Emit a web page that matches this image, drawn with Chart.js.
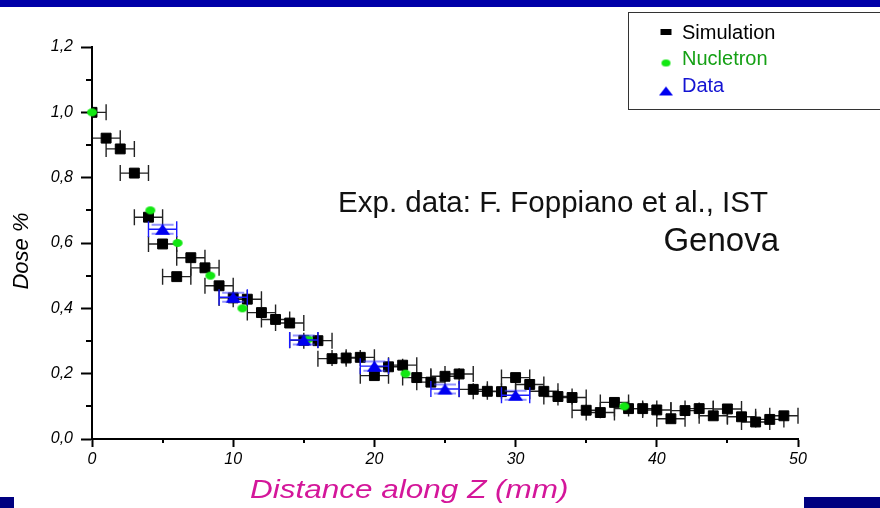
<!DOCTYPE html>
<html>
<head>
<meta charset="utf-8">
<title>Dose along Z</title>
<script src="https://cdn.jsdelivr.net/npm/chart.js@4.4.1/dist/chart.umd.min.js"></script>
<style>
  html, body { margin: 0; padding: 0; background: #fff; }
  #wrap { position: relative; width: 880px; height: 508px; overflow: hidden; }
  #topBar { position: absolute; left: 0; top: 0; width: 880px; height: 7px; background: #0000a8; }
  .foot { position: absolute; top: 497px; height: 11px; background: #000080; }
</style>
</head>
<body>
<div id="wrap">
  <canvas id="doseChart" width="880" height="508"></canvas>
  <div id="topBar"></div>
  <div class="foot" style="left:0;width:14px"></div>
  <div class="foot" style="left:804px;width:76px"></div>
</div>
<script>
// Simulation (mm bin centre, relative dose), each bin +-1 mm
const simZ = [0, 1, 2, 3, 4, 5, 6, 7, 8, 9, 10, 11, 12, 13, 14, 15, 16, 17, 18, 19,
              20, 21, 22, 23, 24, 25, 26, 27, 28, 29, 30, 31, 32, 33, 34, 35, 36, 37, 38, 39,
              40, 41, 42, 43, 44, 45, 46, 47, 48, 49];
const simDose = [1.0, 0.921, 0.888, 0.814, 0.679, 0.597, 0.497, 0.555, 0.524, 0.469,
                 0.432, 0.428, 0.387, 0.366, 0.355, 0.302, 0.301, 0.246, 0.248, 0.25,
                 0.194, 0.221, 0.226, 0.188, 0.174, 0.192, 0.199, 0.152, 0.146, 0.145,
                 0.188, 0.167, 0.146, 0.13, 0.127, 0.088, 0.081, 0.112, 0.093, 0.093,
                 0.089, 0.062, 0.087, 0.093, 0.071, 0.092, 0.068, 0.052, 0.06, 0.071];
const simZErr = 1;

// Nucletron reference curve
const nucZ = [0, 4.13, 6.06, 8.38, 10.65, 15.3, 22.2, 37.7];
const nucDose = [1.0, 0.70, 0.60, 0.50, 0.40, 0.305, 0.20, 0.10];

// measured data (Foppiano et al.)
const dataZ = [5, 10, 15, 20, 25, 30];
const dataDose = [0.642, 0.434, 0.303, 0.223, 0.153, 0.134];
const dataZErr = 1;
const dataDoseErr = [0.014, 0.014, 0.014, 0.014, 0.014, 0.014];

// axes
const xTicks = [0, 10, 20, 30, 40, 50];
const xMinorTicks = [5, 15, 25, 35, 45];
const yTicks = [0, 0.2, 0.4, 0.6, 0.8, 1.0, 1.2];
const yTickLabels = ['0,0', '0,2', '0,4', '0,6', '0,8', '1,0', '1,2'];
const yMinorTicks = [0.1, 0.3, 0.5, 0.7, 0.9, 1.1];

const FONT = "'Liberation Sans', Arial, sans-serif";
Chart.defaults.font.family = FONT;

function markerCanvas(w, h, color, shape) {
  const c = document.createElement('canvas');
  c.width = w + 2; c.height = h + 2;
  const g = c.getContext('2d');
  g.fillStyle = color;
  g.beginPath();
  if (shape === 'ellipse') {
    g.ellipse(c.width / 2, c.height / 2, w / 2, h / 2, 0, 0, Math.PI * 2);
  } else if (shape === 'tri') {
    g.moveTo(1 + w / 2, 1); g.lineTo(1 + w, 1 + h); g.lineTo(1, 1 + h); g.closePath();
  } else {
    g.rect(1, 1, w, h);
  }
  g.fill();
  return c;
}
const greenDot = markerCanvas(10, 8, '#12e812', 'ellipse');
const blueTri = markerCanvas(15, 11, '#0000f0', 'tri');
const legendRect = markerCanvas(11, 6, '#000', 'rect');
const legendDot = markerCanvas(9, 7, '#12e812', 'ellipse');
const legendTri = markerCanvas(14, 9, '#0000f0', 'tri');

// horizontal (and vertical) error bars, drawn under each dataset's markers
const errorBars = {
  id: 'errorBars',
  beforeDatasetDraw(chart, args) {
    const ds = chart.data.datasets[args.index];
    if (ds.errX === undefined) return;
    const { ctx, chartArea: a, scales: { x, y } } = chart;
    ctx.save();
    ctx.beginPath();
    ctx.rect(a.left + 1, a.top - 10, a.right - a.left + 2, a.bottom - a.top + 10);
    ctx.clip();
    ds.data.forEach((p, i) => {
      const px = x.getPixelForValue(p.x), py = y.getPixelForValue(p.y);
      const xl = x.getPixelForValue(p.x - ds.errX), xr = x.getPixelForValue(p.x + ds.errX);
      ctx.strokeStyle = ds.errColor;
      ctx.lineWidth = 1.4;
      ctx.beginPath();
      ctx.moveTo(xl, py); ctx.lineTo(xr, py);
      ctx.moveTo(xl, py - 8); ctx.lineTo(xl, py + 8);
      ctx.moveTo(xr, py - 8); ctx.lineTo(xr, py + 8);
      ctx.stroke();
      if (ds.errY) {
        const yt = y.getPixelForValue(p.y + ds.errY[i]), yb = y.getPixelForValue(p.y - ds.errY[i]);
        ctx.strokeStyle = 'rgba(60,60,255,0.55)';
        ctx.lineWidth = 2;
        ctx.beginPath();
        ctx.moveTo(px, yt); ctx.lineTo(px, yb);
        ctx.moveTo(px - 11, yt); ctx.lineTo(px + 11, yt);
        ctx.moveTo(px - 11, yb); ctx.lineTo(px + 11, yb);
        ctx.stroke();
      }
    });
    ctx.restore();
  }
};

// minor ticks, titles, annotation and the boxed legend
const decorations = {
  id: 'decorations',
  afterDraw(chart) {
    const { ctx, chartArea: a, scales: { x, y } } = chart;
    ctx.save();
    ctx.strokeStyle = '#000';
    ctx.lineWidth = 2;
    ctx.beginPath();
    yMinorTicks.forEach(v => {
      const py = Math.round(y.getPixelForValue(v));
      ctx.moveTo(a.left - 6, py); ctx.lineTo(a.left, py);
    });
    xMinorTicks.forEach(v => {
      const px = Math.round(x.getPixelForValue(v));
      ctx.moveTo(px, a.bottom); ctx.lineTo(px, a.bottom + 4);
    });
    ctx.stroke();

    // axis titles
    ctx.fillStyle = '#d4169a';
    ctx.font = 'italic 25px ' + FONT;
    ctx.textAlign = 'left';
    ctx.textBaseline = 'alphabetic';
    ctx.save();
    ctx.translate(250, 498);
    ctx.scale(1.26, 1);
    ctx.fillText('Distance along Z (mm)', 0, 0);
    ctx.restore();

    ctx.fillStyle = '#000';
    ctx.font = 'italic 22px ' + FONT;
    ctx.save();
    ctx.translate(28, 251);
    ctx.rotate(-Math.PI / 2);
    ctx.textAlign = 'center';
    ctx.fillText('Dose %', 0, 0);
    ctx.restore();

    // annotation
    ctx.fillStyle = '#111';
    ctx.font = '30px ' + FONT;
    ctx.textAlign = 'right';
    ctx.fillText('Exp. data: F. Foppiano et al., IST', 768, 212, 430);
    ctx.font = '33px ' + FONT;
    ctx.fillText('Genova', 779, 251);

    // legend
    ctx.fillStyle = '#fff';
    ctx.fillRect(628, 12, 260, 98);
    ctx.strokeStyle = '#333';
    ctx.lineWidth = 1;
    ctx.strokeRect(628.5, 12.5, 260, 97);
    ctx.drawImage(legendRect, 666 - legendRect.width / 2, 32 - legendRect.height / 2);
    ctx.drawImage(legendDot, 666 - legendDot.width / 2, 63 - legendDot.height / 2);
    ctx.drawImage(legendTri, 666 - legendTri.width / 2, 91 - legendTri.height / 2);
    ctx.font = '20px ' + FONT;
    ctx.textAlign = 'left';
    ctx.fillStyle = '#000';
    ctx.fillText('Simulation', 682, 39);
    ctx.fillStyle = '#15a015';
    ctx.fillText('Nucletron', 682, 65);
    ctx.fillStyle = '#1414d2';
    ctx.fillText('Data', 682, 92);
    ctx.restore();
  }
};

new Chart(document.getElementById('doseChart'), {
  type: 'scatter',
  data: {
    datasets: [
      {
        label: 'Simulation',
        data: simZ.map((z, i) => ({ x: z, y: simDose[i] })),
        pointStyle: 'rect',
        pointRadius: 7,
        pointBackgroundColor: '#000',
        pointBorderColor: '#000',
        pointBorderWidth: 1,
        errX: simZErr,
        errColor: '#222',
        order: 3
      },
      {
        label: 'Nucletron',
        data: nucZ.map((z, i) => ({ x: z, y: nucDose[i] })),
        pointStyle: greenDot,
        clip: false,
        order: 2
      },
      {
        label: 'Data',
        data: dataZ.map((z, i) => ({ x: z, y: dataDose[i] })),
        pointStyle: blueTri,
        errX: dataZErr,
        errY: dataDoseErr,
        errColor: '#1a1aff',
        order: 1
      }
    ]
  },
  options: {
    responsive: false,
    animation: false,
    layout: { padding: { left: 0, right: 82, top: 47, bottom: 0 } },
    plugins: { legend: { display: false }, tooltip: { enabled: false } },
    scales: {
      x: {
        type: 'linear',
        min: 0,
        max: 50,
        afterBuildTicks: s => { s.ticks = xTicks.map(v => ({ value: v })); },
        afterFit: s => { s.height = 69; },
        border: { color: '#000', width: 2 },
        grid: { drawOnChartArea: false, tickLength: 8, tickWidth: 2, tickColor: '#000' },
        ticks: { color: '#000', font: { size: 16, style: 'italic' }, padding: 3, maxRotation: 0 }
      },
      y: {
        type: 'linear',
        min: 0,
        max: 1.2,
        afterBuildTicks: s => { s.ticks = yTicks.map(v => ({ value: v })); },
        afterFit: s => { s.width = 92; },
        border: { color: '#000', width: 2 },
        grid: { drawOnChartArea: false, tickLength: 11, tickWidth: 2, tickColor: '#000' },
        ticks: {
          color: '#000',
          font: { size: 16, style: 'italic' },
          padding: 8,
          callback: (v, i) => yTickLabels[i]
        }
      }
    }
  },
  plugins: [errorBars, decorations]
});
</script>
</body>
</html>
